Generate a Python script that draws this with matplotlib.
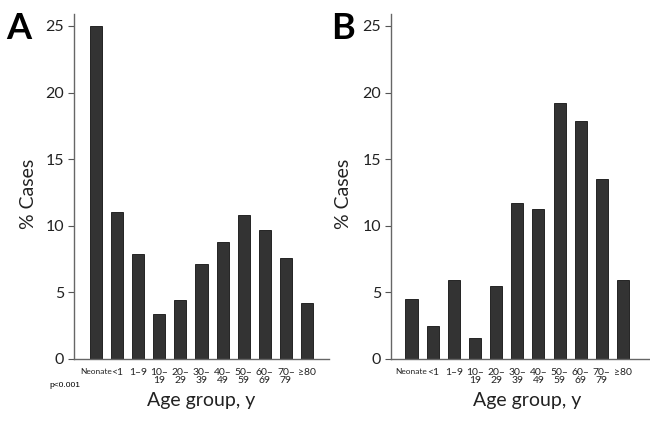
import matplotlib
matplotlib.use("Agg")
import matplotlib.pyplot as plt
import numpy as np

categories = ["Neonate", "<1", "1–9", "10–\n19", "20–\n29", "30–\n39", "40–\n49",
              "50–\n59", "60–\n69", "70–\n79", "≥80"]
values_a = [25.0, 11.0, 7.9, 3.35, 4.4, 7.1, 8.8, 10.8, 9.65, 7.6, 4.2]
values_b = [4.5, 2.5, 5.95, 1.6, 5.5, 11.7, 11.25, 19.25, 17.9, 13.5, 5.95]
yticks = [0, 5, 10, 15, 20, 25]

FONT = ["Lato", "DejaVu Sans"]
plt.rcParams['font.family'] = FONT

fig = plt.figure(figsize=(6.5, 4.29), dpi=100)
ax_a = fig.add_axes([74/650, 70/429, (329-74)/650, (359-14)/429])
ax_b = fig.add_axes([391/650, 70/429, (663-391)/650, (359-14)/429])

def style(ax, vals, xl, xr):
    x = np.arange(len(vals))
    ax.bar(x, vals, width=0.57, color="#333333", edgecolor="#111111", linewidth=0.6, zorder=2)
    ax.set_ylim(0, 25.9)
    ax.set_xlim(xl, xr)
    ax.set_yticks(yticks)
    ax.set_yticklabels([str(t) for t in yticks], fontsize=11.5, color="#222222")
    ax.tick_params(axis="y", length=4, width=0.8, color="#555555", pad=3)
    ax.tick_params(axis="x", length=0, pad=3)
    ax.set_xticks(x)
    ax.set_xticklabels([])
    for i, c in enumerate(categories):
        fs = 6 if c == "Neonate" else 7.5
        ax.text(i, -0.65, c, ha="center", va="top", fontsize=fs, linespacing=0.85,
                color="#222222")
    for s in ["top", "right"]:
        ax.spines[s].set_visible(False)
    for s in ["left", "bottom"]:
        ax.spines[s].set_color("#666666")
        ax.spines[s].set_linewidth(1.0)
    ax.set_ylabel("% Cases", fontsize=14, color="#222222")
    ax.set_xlabel("Age group, y", fontsize=14, labelpad=21, color="#222222")

style(ax_a, values_a, -1.04, 11.04)
style(ax_b, values_b, -0.97, 11.89)
ax_a.yaxis.set_label_coords(-37/255, (359-194)/345)
ax_b.yaxis.set_label_coords(-39/272, (359-194)/345)

fig.text(6/650, 1 - 12/429, "A", fontsize=26, fontweight="bold", ha="left", va="top")
fig.text(331/650, 1 - 12/429, "B", fontsize=26, fontweight="bold", ha="left", va="top")
fig.text(49/650, 1 - 382/429, "p<0.001", fontsize=6, ha="left", va="top",
         family=["Liberation Sans", "DejaVu Sans"])

fig.savefig("out.png", dpi=100, facecolor="white")
